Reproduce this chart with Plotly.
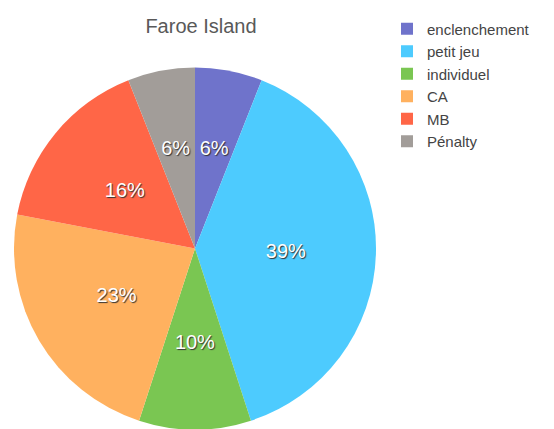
import plotly.graph_objects as go

categories = ["enclenchement", "petit jeu", "individuel", "CA", "MB", "Pénalty"]
values = [6, 39, 10, 23, 16, 6]
colors = ["#6F73CB", "#4DCBFE", "#7AC652", "#FFB15F", "#FF6647", "#A29D99"]

W, H = 554, 429
FONT = "Liberation Sans, Arial, sans-serif"

# pie geometry (figure pixels; the page adds an 8px body margin)
CX, CY, R = 187, 240.5, 181
TOP = 59
PH = H - TOP
R_LABEL = 122  # radius of the transparent label ring

fig = go.Figure()

# main pie (colored slices + legend)
fig.add_trace(go.Pie(
    labels=categories,
    values=values,
    sort=False,
    direction="clockwise",
    rotation=0,
    marker=dict(colors=colors, line=dict(width=0)),
    textinfo="none",
    hoverinfo="label+percent",
    domain=dict(x=[(CX - R) / W, (CX + R) / W],
                y=[(H - CY - R) / PH, (H - CY + R) / PH]),
))

# transparent ring carrying the percentage labels at mid-radius
fig.add_trace(go.Pie(
    labels=categories,
    values=values,
    sort=False,
    direction="clockwise",
    rotation=0,
    hole=2 * 91 / R_LABEL - 1,
    marker=dict(colors=["rgba(0,0,0,0)"] * len(values), line=dict(width=0)),
    texttemplate="%{percent:.0%}",
    textposition="inside",
    insidetextorientation="horizontal",
    textfont=dict(family=FONT, size=20, color="white", shadow="1px 1px 1px #333"),
    hoverinfo="skip",
    showlegend=False,
    domain=dict(x=[(CX - R_LABEL) / W, (CX + R_LABEL) / W],
                y=[(H - CY - R_LABEL) / PH, (H - CY + R_LABEL) / PH]),
))

fig.update_layout(
    width=W, height=H,
    margin=dict(l=0, r=0, t=TOP, b=0, autoexpand=False),
    paper_bgcolor="white",
    title=dict(text="Faroe Island", x=193 / W, xanchor="center", xref="container",
               y=1 - 18 / H, yanchor="middle", yref="container",
               font=dict(family=FONT, size=20, color="#595959")),
    legend=dict(x=379 / W, y=1 - 4.5 / H, xanchor="left", yanchor="top",
                xref="container", yref="container",
                font=dict(family=FONT, size=15, color="#444444"),
                itemwidth=30, tracegroupgap=0, bgcolor="rgba(0,0,0,0)"),
    showlegend=True,
)

fig.write_html("out.html")
